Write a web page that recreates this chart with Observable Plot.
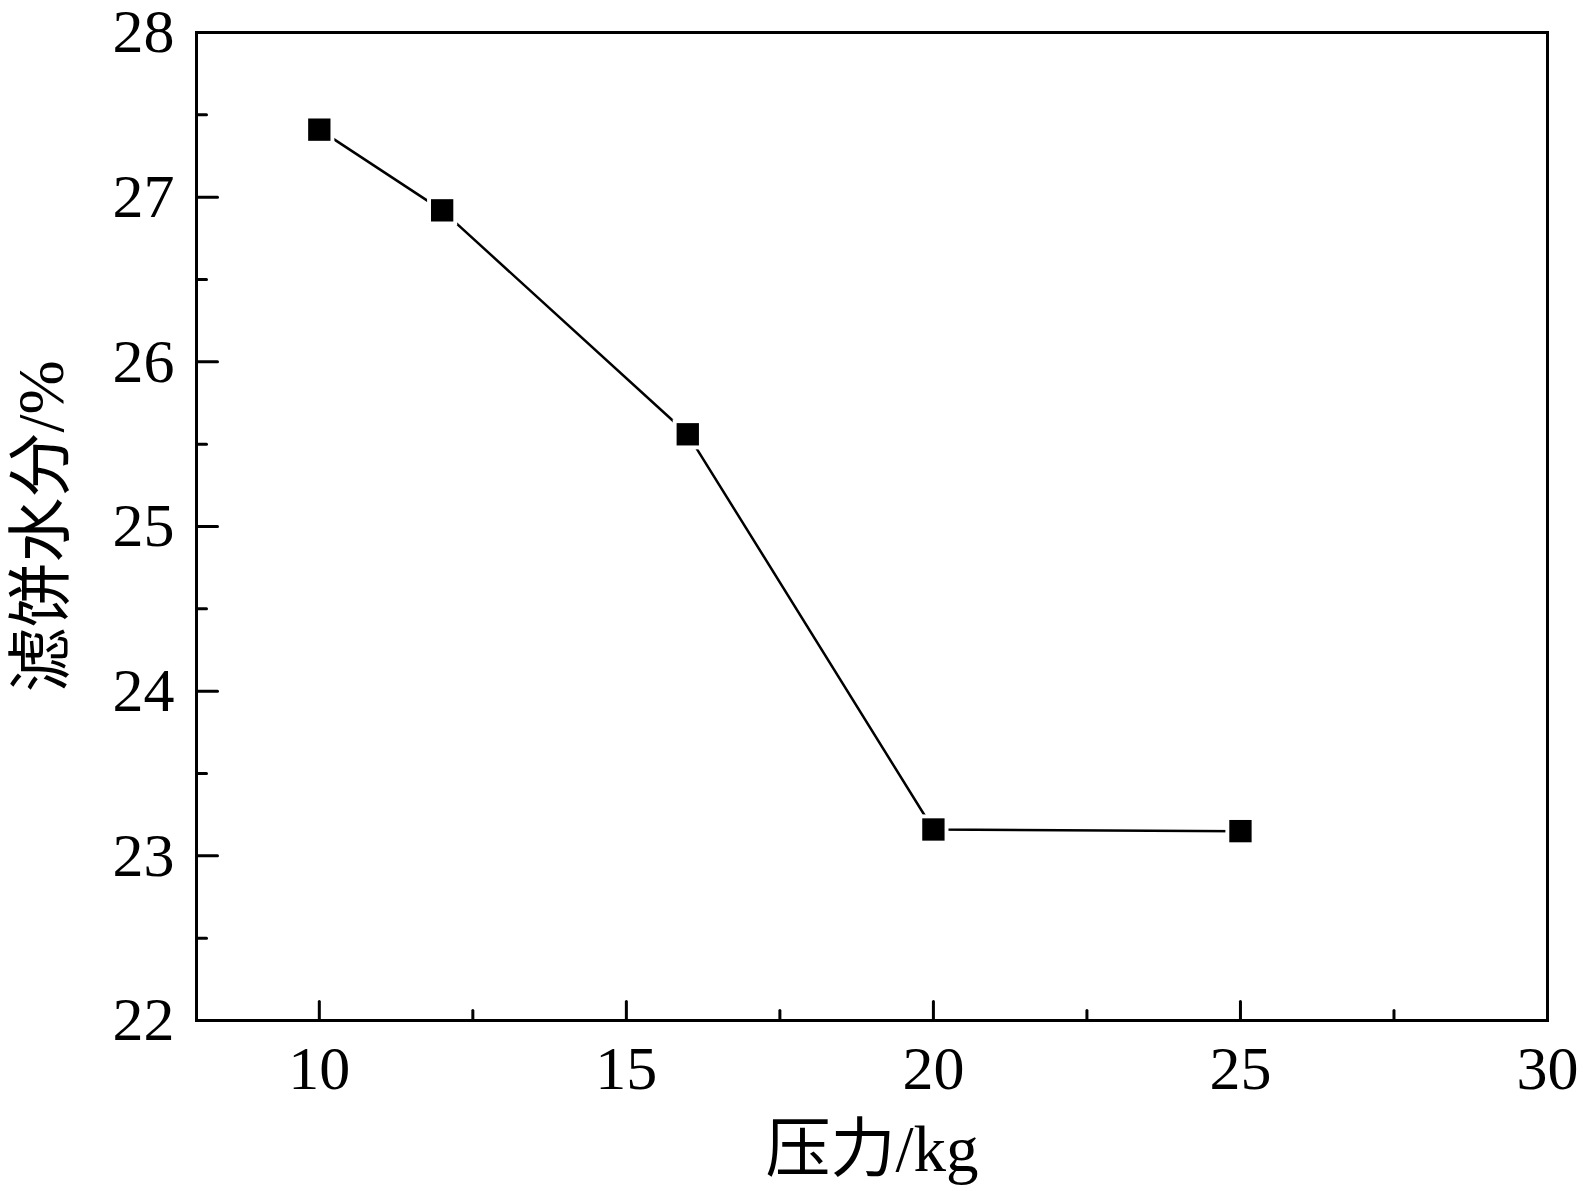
<!DOCTYPE html>
<html>
<head>
<meta charset="utf-8">
<script src="https://cdn.jsdelivr.net/npm/d3@7"></script>
<script src="https://cdn.jsdelivr.net/npm/@observablehq/plot@0.6"></script>
<style>
  html, body { margin: 0; padding: 0; background: #fff; }
</style>
</head>
<body>
<div id="chart"></div>
<script>
// Data
const pressure = [10, 12, 16, 20, 25];          // 压力/kg
const moisture = [27.41, 26.92, 25.56, 23.16, 23.15]; // 滤饼水分/%

const xMajorTicks = [10, 15, 20, 25, 30];
const xMinorTicks = [12.5, 17.5, 22.5, 27.5];
const yMajorTicks = [22, 23, 24, 25, 26, 27, 28];
const yMinorTicks = [22.5, 23.5, 24.5, 25.5, 26.5, 27.5];

const xLabel = "压力/kg";
const yLabel = "滤饼水分/%";

const data = pressure.map((p, i) => ({p, m: moisture[i]}));
const xDomain = [8, 30];
const yDomain = [22, 28];
const FONT = "'Liberation Serif', 'Times New Roman', 'Noto Sans CJK SC', serif";

// plain line shape for inward tick marks
const tickShape = {draw(context, l) { context.moveTo(0, 0); context.lineTo(0, -l); }};

const chart = Plot.plot({
  width: 1583,
  height: 1191,
  marginLeft: 196,
  marginRight: 36,
  marginTop: 32,
  marginBottom: 171,
  style: {fontFamily: FONT, background: "#fff", color: "#000"},
  x: {domain: xDomain},
  y: {domain: yDomain},
  marks: [
    // tick labels + axis titles
    Plot.axisX({ticks: xMajorTicks, tickSize: 0, tickPadding: 24, fontSize: 62, tickFormat: d => String(d),
                label: xLabel, labelAnchor: "center", labelOffset: 150, labelArrow: "none"}),
    Plot.axisY({ticks: yMajorTicks, tickSize: 0, tickPadding: 22, fontSize: 62, tickFormat: d => String(d),
                label: yLabel, labelAnchor: "center", labelOffset: 180, labelArrow: "none"}),
    // inward ticks
    Plot.vector(xMajorTicks, {x: d => d, y: yDomain[0], length: 19, rotate: 0, anchor: "start", shape: tickShape, stroke: "#000", strokeWidth: 3}),
    Plot.vector(xMinorTicks, {x: d => d, y: yDomain[0], length: 10, rotate: 0, anchor: "start", shape: tickShape, stroke: "#000", strokeWidth: 3}),
    Plot.vector(yMajorTicks, {x: xDomain[0], y: d => d, length: 21, rotate: 90, anchor: "start", shape: tickShape, stroke: "#000", strokeWidth: 3}),
    Plot.vector(yMinorTicks, {x: xDomain[0], y: d => d, length: 10, rotate: 90, anchor: "start", shape: tickShape, stroke: "#000", strokeWidth: 3}),
    Plot.frame({stroke: "#000", strokeWidth: 3}),
    // data
    Plot.line(data, {x: "p", y: "m", stroke: "#000", strokeWidth: 2.5}),
    Plot.dot(data, {x: "p", y: "m", symbol: "square", r: 17, fill: "#fff", stroke: null}),
    Plot.dot(data, {x: "p", y: "m", symbol: "square", r: 12.6, fill: "#000", stroke: null})
  ]
});

// enlarge axis titles
chart.querySelectorAll("[aria-label='x-axis label'] text, [aria-label='y-axis label'] text").forEach(t => t.setAttribute("font-size", 65));

document.getElementById("chart").appendChild(chart);
</script>
</body>
</html>
